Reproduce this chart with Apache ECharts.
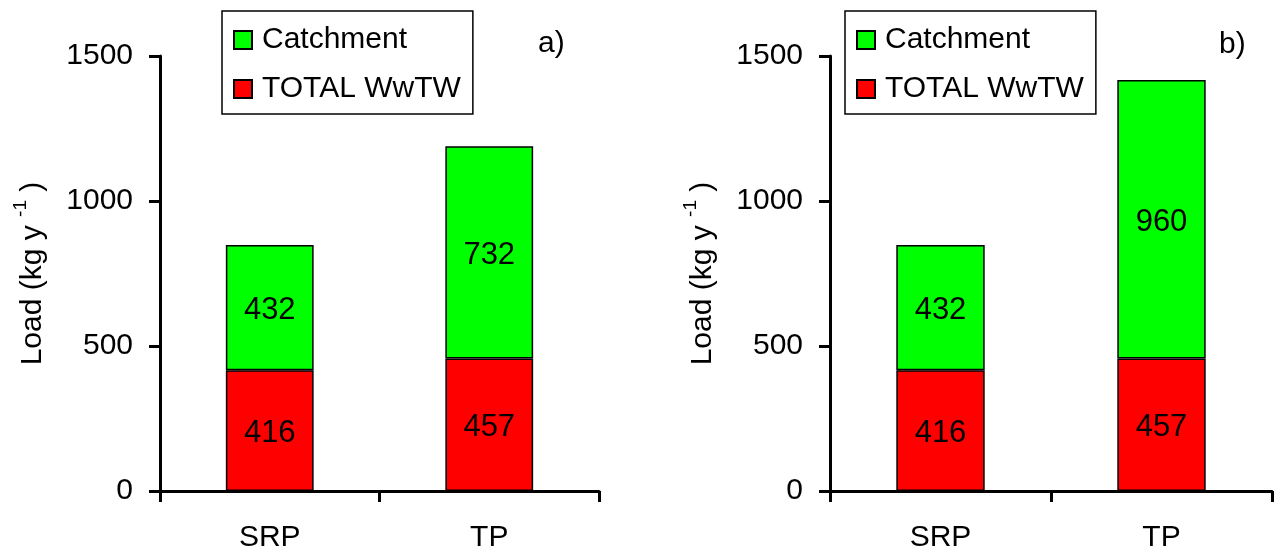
<!DOCTYPE html>
<html>
<head>
<meta charset="utf-8">
<script src="https://cdn.jsdelivr.net/npm/echarts@6/dist/echarts.min.js"></script>
<style>
html,body{margin:0;padding:0;background:#fff;}
#c{width:1276px;height:553px;}
</style>
</head>
<body>
<div id="c"></div>
<script>
var categories = ['SRP', 'TP'];
var wwtwA = [416, 457];
var catchA = [432, 732];
var wwtwB = [416, 457];
var catchB = [432, 960];
var yTicks = [0, 500, 1000, 1500];
var panelLabels = ['a)', 'b)'];
var legendNames = ['Catchment', 'TOTAL WwTW'];

var FONT = '"Liberation Sans", Arial, sans-serif';
var GREEN = '#00FF00', RED = '#FF0000';

var chart = echarts.init(document.getElementById('c'), null, {renderer: 'canvas'});

function xAxis(gi) {
  return {
    type: 'category', gridIndex: gi, data: categories,
    axisLine: {lineStyle: {color: '#000', width: 3}},
    axisTick: {show: true, length: 11, lineStyle: {color: '#000', width: 3}},
    axisLabel: {color: '#000', fontSize: 30, fontFamily: FONT, margin: 32},
    splitLine: {show: false}
  };
}
function yAxis(gi) {
  return {
    type: 'value', gridIndex: gi, min: yTicks[0], max: yTicks[yTicks.length - 1], interval: yTicks[1] - yTicks[0],
    axisLine: {show: true, lineStyle: {color: '#000', width: 3}},
    axisTick: {show: true, length: 11, lineStyle: {color: '#000', width: 3}},
    axisLabel: {color: '#000', fontSize: 30, fontFamily: FONT, margin: 27, formatter: function (v) { return String(v); }},
    splitLine: {show: false},
    name: '{n|Load (kg y }{s|-1}{n| )}',
    nameLocation: 'middle', nameRotate: 90, nameGap: 112,
    nameTextStyle: {
      color: '#000', fontFamily: FONT, fontSize: 30,
      rich: {
        n: {fontSize: 30, fontFamily: FONT, color: '#000', lineHeight: 37, verticalAlign: 'bottom'},
        s: {fontSize: 19, fontFamily: FONT, color: '#000', lineHeight: 37, verticalAlign: 'top'}
      }
    }
  };
}
function barSeries(name, data, gi, color, stack) {
  return {
    type: 'bar', name: name, stack: stack, data: data,
    xAxisIndex: gi, yAxisIndex: gi, barWidth: '40%',
    itemStyle: {color: color, borderColor: '#000', borderWidth: 1.5},
    label: {show: true, position: 'inside', color: '#000', fontSize: 31, fontFamily: FONT, offset: [0, 3]},
    emphasis: {disabled: true},
    animation: false
  };
}
function legend(left) {
  return {
    data: legendNames, orient: 'vertical', left: left, top: 11,
    padding: [14, 12, 10, 11], itemGap: 19, itemWidth: 18, itemHeight: 18,
    icon: 'rect',
    borderColor: '#000', borderWidth: 1.5,
    textStyle: {color: '#000', fontSize: 30, fontFamily: FONT, lineHeight: 30, padding: [0, 0, 0, 5]},
    selectedMode: false
  };
}

chart.setOption({
  animation: false,
  backgroundColor: '#fff',
  grid: [
    {left: 160, top: 56, width: 439, height: 435},
    {left: 830, top: 56, width: 442, height: 435}
  ],
  xAxis: [xAxis(0), xAxis(1)],
  yAxis: [yAxis(0), yAxis(1)],
  legend: [legend(222), legend(845)],
  series: [
    barSeries(legendNames[1], wwtwA, 0, RED, 'a'),
    barSeries(legendNames[0], catchA, 0, GREEN, 'a'),
    barSeries(legendNames[1], wwtwB, 1, RED, 'b'),
    barSeries(legendNames[0], catchB, 1, GREEN, 'b')
  ],
  graphic: [
    {type: 'text', left: 538, top: 29, style: {text: panelLabels[0], fontSize: 30, fontFamily: FONT, fill: '#000'}},
    {type: 'text', left: 1219, top: 30, style: {text: panelLabels[1], fontSize: 30, fontFamily: FONT, fill: '#000'}}
  ]
});
</script>
</body>
</html>
